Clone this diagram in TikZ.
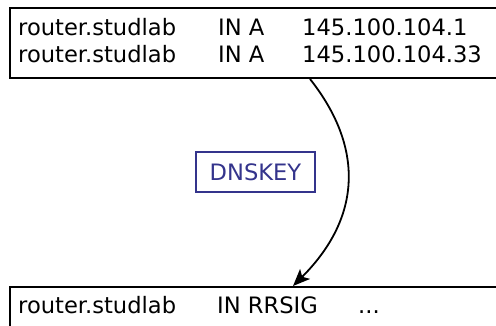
\documentclass[tikz,border=0pt]{standalone}
\usepackage{fontspec}
\setmainfont{DejaVu Sans}
\usetikzlibrary{arrows.meta}
\definecolor{keyblue}{RGB}{52,52,140}
\tikzset{
  recbox/.style={draw=black, line width=2pt, rectangle, inner sep=0pt, anchor=north west},
  rec/.style={anchor=base west, inner sep=0pt, font=\fontsize{22.6}{27}\selectfont},
  keybox/.style={draw=keyblue, text=keyblue, line width=1.6pt, inner sep=0pt,
    minimum width=119pt, minimum height=40pt, font=\fontsize{22.6}{27}\selectfont},
  sigarrow/.style={draw=black, line width=1.8pt, -{Stealth[length=17pt,width=14pt,inset=4pt]}}
}
\begin{document}
\begin{tikzpicture}[x=1pt,y=-1pt]
  \useasboundingbox (0,0) rectangle (496,325);
  \clip (0,0) rectangle (496,325);
  % record set and its signature
  \node[recbox, minimum width=520pt, minimum height=70.5pt] (top) at (9,6.5) {};
  \node[recbox, minimum width=520pt, minimum height=60pt] (bot) at (9,286) {};
  % resource records
  \node[rec] (r1a) at (18,35) {router.studlab};
  \node[rec] (r1b) at (218,35) {IN A};
  \node[rec] (r1c) at (302,35) {145.100.104.1};
  \node[rec] (r2a) at (18,62) {router.studlab};
  \node[rec] (r2b) at (218,62) {IN A};
  \node[rec] (r2c) at (302,62) {145.100.104.33};
  \node[rec] (s1a) at (18,313) {router.studlab};
  \node[rec] (s1b) at (217,313) {IN RRSIG};
  \node[rec] (s1c) at (358,313) {...};
  % signing key
  \node[keybox] (key) at (255.5,172) {DNSKEY};
  \coordinate (from) at (top.south -| 310,0);
  \coordinate (to) at (bot.north -| 293,0);
  \draw[sigarrow] (from) .. controls (363,146) and (363,216) .. (to);
\end{tikzpicture}
\end{document}
